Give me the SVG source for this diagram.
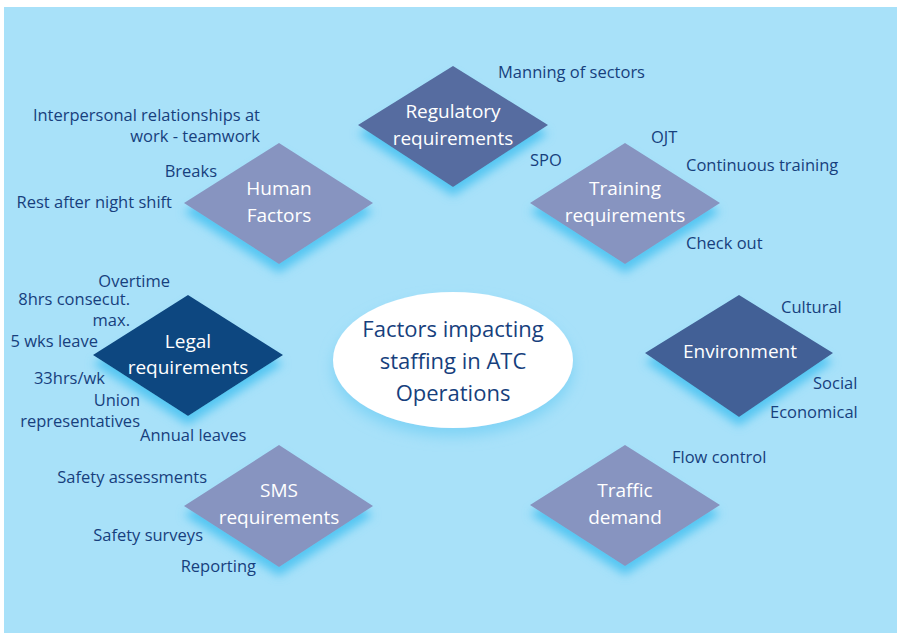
<svg xmlns="http://www.w3.org/2000/svg" width="899" height="635" viewBox="0 0 899 635">
<defs>
<filter id="glow" x="-30%" y="-30%" width="160%" height="170%">
<feFlood flood-color="#55c6f2" result="c"/>
<feComposite in="c" in2="SourceAlpha" operator="in" result="s"/>
<feOffset in="s" dy="9" result="o"/>
<feGaussianBlur in="o" stdDeviation="5" result="b"/>
<feMerge><feMergeNode in="b"/><feMergeNode in="SourceGraphic"/></feMerge>
</filter>
<filter id="eglow" x="-30%" y="-30%" width="160%" height="170%">
<feFlood flood-color="#7fd3f5" result="c"/>
<feComposite in="c" in2="SourceAlpha" operator="in" result="s"/>
<feOffset in="s" dy="8" result="o"/>
<feGaussianBlur in="o" stdDeviation="7" result="b"/>
<feMerge><feMergeNode in="b"/><feMergeNode in="SourceGraphic"/></feMerge>
</filter>
</defs>
<style>
text{font-family:"Open Sans","Noto Sans",sans-serif}
.l{fill:#173f7d;font-size:16.5px}
.e{text-anchor:end}
.d{fill:#ffffff;font-size:19px;text-anchor:middle}
.c{fill:#173f7d;font-size:22px;text-anchor:middle}
.light{fill:#8794c0}
</style>
<rect x="4" y="7" width="893" height="626" fill="#a8e1f9"/>
<g id="connectors"/>

<g id="center">
<ellipse cx="453" cy="360" rx="120" ry="68" fill="#ffffff" filter="url(#eglow)"/>
<text class="c" x="453" y="337">Factors impacting</text>
<text class="c" x="453" y="369">staffing in ATC</text>
<text class="c" x="453" y="401">Operations</text>
</g>

<g id="regulatory">
<polygon points="453,66 548,125 453,187 358,125" fill="#566ca0" filter="url(#glow)"/>
<text class="d" x="453" y="118">Regulatory</text>
<text class="d" x="453" y="145">requirements</text>
<text class="l" x="498" y="78">Manning of sectors</text>
<text class="l" x="530" y="166">SPO</text>
</g>

<g id="human">
<polygon points="279,143 373,203 279,264 184,203" class="light" filter="url(#glow)"/>
<text class="d" x="279" y="195">Human</text>
<text class="d" x="279" y="222">Factors</text>
<text class="l e" x="260" y="121">Interpersonal relationships at</text>
<text class="l e" x="260" y="142">work - teamwork</text>
<text class="l e" x="217" y="177">Breaks</text>
<text class="l e" x="172" y="208">Rest after night shift</text>
</g>

<g id="training">
<polygon points="625,143 720,203 625,264 530,203" class="light" filter="url(#glow)"/>
<text class="d" x="625" y="195">Training</text>
<text class="d" x="625" y="222">requirements</text>
<text class="l" x="651" y="143">OJT</text>
<text class="l" x="686" y="171">Continuous training</text>
<text class="l" x="686" y="249">Check out</text>
</g>

<g id="legal">
<polygon points="188,295 283,355 188,416 93,355" fill="#0b4680" filter="url(#glow)"/>
<text class="d" x="188" y="348">Legal</text>
<text class="d" x="188" y="374">requirements</text>
<text class="l e" x="170" y="287">Overtime</text>
<text class="l e" x="130" y="305">8hrs consecut.</text>
<text class="l e" x="130" y="326">max.</text>
<text class="l e" x="98" y="347">5 wks leave</text>
<text class="l e" x="105" y="384">33hrs/wk</text>
<text class="l e" x="140" y="406">Union</text>
<text class="l e" x="140" y="427">representatives</text>
<text class="l" x="140" y="441">Annual leaves</text>
</g>

<g id="environment">
<polygon points="739,295 833,353 739,417 645,353" fill="#426096" filter="url(#glow)"/>
<text class="d" x="740" y="358">Environment</text>
<text class="l" x="781" y="313">Cultural</text>
<text class="l" x="813" y="389">Social</text>
<text class="l" x="770" y="418">Economical</text>
</g>

<g id="sms">
<polygon points="279,445 373,506 279,567 184,506" class="light" filter="url(#glow)"/>
<text class="d" x="279" y="497">SMS</text>
<text class="d" x="279" y="524">requirements</text>
<text class="l e" x="207" y="483">Safety assessments</text>
<text class="l e" x="203" y="541">Safety surveys</text>
<text class="l e" x="256" y="572">Reporting</text>
</g>

<g id="traffic">
<polygon points="625,445 720,505 625,566 530,505" class="light" filter="url(#glow)"/>
<text class="d" x="625" y="497">Traffic</text>
<text class="d" x="625" y="524">demand</text>
<text class="l" x="672" y="463">Flow control</text>
</g>
</svg>
